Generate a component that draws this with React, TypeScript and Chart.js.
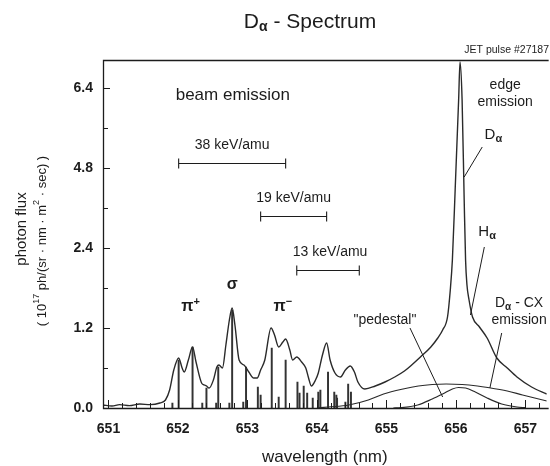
import { useEffect, useRef } from 'react';
import { Chart, LinearScale, registerables } from 'chart.js';

Chart.register(...registerables);

// ---------- data ----------
const Y_TICKS = [0, 1.2, 2.4, 4.8, 6.4];
const Y_TICK_LABELS = ['0.0', '1.2', '2.4', '4.8', '6.4'];
const X_TICKS = [651, 652, 653, 654, 655, 656, 657];

const SPECTRUM_NM = [650.92, 651.05, 651.16, 651.3, 651.45, 651.6, 651.74, 651.82, 651.88, 651.94, 652.01, 652.06, 652.09, 652.15, 652.21, 652.26, 652.34, 652.38, 652.41, 652.45, 652.51, 652.56, 652.59, 652.64, 652.69, 652.74, 652.78, 652.82, 652.88, 652.95, 653.02, 653.09, 653.14, 653.19, 653.25, 653.34, 653.39, 653.45, 653.51, 653.55, 653.61, 653.65, 653.71, 653.78, 653.84, 653.88, 653.92, 653.98, 654.02, 654.08, 654.14, 654.19, 654.26, 654.34, 654.41, 654.48, 654.54, 654.59, 654.69, 654.84, 654.98, 655.12, 655.26, 655.38, 655.49, 655.64, 655.74, 655.81, 655.88, 655.92, 655.95, 655.99, 656.04, 656.06, 656.09, 656.12, 656.14, 656.16, 656.19, 656.24, 656.34, 656.45, 656.59, 656.74, 656.88, 657.09, 657.31];
const SPECTRUM_FLUX = [0.045, 0.03, 0.05, 0.035, 0.06, 0.05, 0.075, 0.12, 0.27, 0.57, 0.75, 0.6, 0.54, 0.72, 0.915, 0.69, 0.375, 0.345, 0.33, 0.3, 0.42, 0.615, 0.645, 0.6, 0.945, 1.32, 1.5, 1.245, 0.72, 0.645, 0.54, 0.45, 0.45, 0.57, 0.72, 1.2, 1.095, 0.915, 0.99, 1.035, 0.87, 0.72, 0.765, 0.69, 0.6, 0.45, 0.33, 0.42, 0.525, 0.795, 0.975, 0.72, 0.525, 0.465, 0.57, 0.63, 0.54, 0.39, 0.285, 0.33, 0.39, 0.465, 0.555, 0.66, 0.765, 0.915, 1.05, 1.17, 1.365, 1.77, 2.22, 4.14, 6.16, 6.92, 6.16, 3.84, 2.22, 1.845, 1.62, 1.365, 1.215, 1.05, 0.75, 0.6, 0.465, 0.315, 0.21];

const STICK_NM = [651.92, 652.01, 652.21, 652.35, 652.41, 652.55, 652.58, 652.74, 652.78, 652.94, 652.98, 653.15, 653.19, 653.35, 653.45, 653.55, 653.72, 653.75, 653.81, 653.86, 653.94, 654.02, 654.05, 654.16, 654.25, 654.28, 654.29, 654.41, 654.45, 654.49];
const STICK_FLUX = [0.075, 0.72, 0.915, 0.075, 0.3, 0.075, 0.615, 0.075, 1.47, 0.09, 0.615, 0.315, 0.195, 0.9, 0.165, 0.72, 0.39, 0.225, 0.33, 0.225, 0.15, 0.24, 0.27, 0.54, 0.24, 0.195, 0.15, 0.09, 0.36, 0.24];

const PEDESTAL_NM = [654.0, 654.16, 654.46, 654.74, 654.96, 655.24, 655.46, 655.66, 655.86, 656.09, 656.31, 656.46, 656.74, 656.96, 657.31];
const PEDESTAL_FLUX = [0.0, 0.015, 0.045, 0.12, 0.21, 0.285, 0.33, 0.3525, 0.36, 0.3525, 0.33, 0.3075, 0.255, 0.195, 0.105];

const HALPHA_NM = [655.1, 655.21, 655.45, 655.66, 655.81, 655.95, 656.04, 656.14, 656.28, 656.45, 656.66, 656.88, 657.0];
const HALPHA_FLUX = [0, 0.005, 0.045, 0.135, 0.21, 0.285, 0.3075, 0.3, 0.24, 0.15, 0.06, 0.015, 0.005];

const ENERGY_LABELS = ['38 keV/amu', '19 keV/amu', '13 keV/amu'];
const ENERGY_FROM_NM = [652.01, 653.19, 653.71];
const ENERGY_TO_NM = [653.55, 654.14, 654.61];
const ENERGY_FLUX = [4.9, 3.36, 2.07];

const X_MIN = 650.921;
const X_MAX = 657.307;
const Y_MIN = 0;
const Y_MAX = 6.96;

// ---------- piecewise y scale (equal spacing between the labelled ticks) ----------
function toIdx(v: number) {
  const t = Y_TICKS;
  let i = 0;
  while (i < t.length - 2 && v > t[i + 1]) i++;
  return i + (v - t[i]) / (t[i + 1] - t[i]);
}
function fromIdx(x: number) {
  const t = Y_TICKS;
  const i = Math.min(Math.max(Math.floor(x), 0), t.length - 2);
  return t[i] + (x - i) * (t[i + 1] - t[i]);
}

class PiecewiseScale extends LinearScale {
  static id = 'piecewise';
  static defaults = LinearScale.defaults;
  getPixelForValue(value: number) {
    const lo = toIdx(this.min), hi = toIdx(this.max);
    return this.getPixelForDecimal((toIdx(value) - lo) / (hi - lo));
  }
  getValueForPixel(pixel: number) {
    const lo = toIdx(this.min), hi = toIdx(this.max);
    return fromIdx(lo + this.getDecimalForPixel(pixel) * (hi - lo));
  }
}
Chart.register(PiecewiseScale as any);

const FONT = '"Liberation Sans", Arial, Helvetica, sans-serif';
const INK = '#1c1c1c';
const LINE = '#2a2a2a';

type Part = { t: string; size: number; bold?: boolean; dy?: number };

function drawRich(ctx: CanvasRenderingContext2D, parts: Part[], x: number, y: number, align: 'center' | 'left' | 'right' = 'center') {
  const fontOf = (p: Part) => `${p.bold ? 'bold ' : ''}${p.size}px ${FONT}`;
  let total = 0;
  const widths = parts.map((p) => {
    ctx.font = fontOf(p);
    const w = ctx.measureText(p.t).width;
    total += w;
    return w;
  });
  let cx = align === 'center' ? x - total / 2 : align === 'right' ? x - total : x;
  ctx.textAlign = 'left';
  ctx.textBaseline = 'middle';
  parts.forEach((p, i) => {
    ctx.font = fontOf(p);
    ctx.fillText(p.t, cx, y + (p.dy || 0));
    cx += widths[i];
  });
}

const decorPlugin = {
  id: 'decor',
  afterDraw(chart: any) {
    const { ctx, chartArea: a, scales } = chart;
    const xs = scales.x, ys = scales.y;
    const X = (v: number) => xs.getPixelForValue(v);
    const Y = (v: number) => ys.getPixelForValue(v);
    ctx.save();
    ctx.fillStyle = INK;
    ctx.strokeStyle = INK;

    // frame: top, left, bottom
    ctx.lineWidth = 1.3;
    ctx.beginPath();
    ctx.moveTo(a.right + 2, a.top + 0.5);
    ctx.lineTo(a.left + 0.5, a.top + 0.5);
    ctx.lineTo(a.left + 0.5, a.bottom + 0.5);
    ctx.lineTo(a.right + 2, a.bottom + 0.5);
    ctx.stroke();

    // inward ticks
    ctx.lineWidth = 1;
    ctx.beginPath();
    Y_TICKS.forEach((v, i) => {
      const py = Math.round(Y(v)) + 0.5;
      ctx.moveTo(a.left, py);
      ctx.lineTo(a.left + 7, py);
      if (i < Y_TICKS.length - 1) {
        const pm = Math.round(Y((v + Y_TICKS[i + 1]) / 2)) + 0.5;
        ctx.moveTo(a.left, pm);
        ctx.lineTo(a.left + 5, pm);
      }
    });
    for (let k = 0; k <= 31; k++) {
      const nm = 651 + k * 0.2;
      if (nm > X_MAX) break;
      const px = Math.round(X(nm)) + 0.5;
      const major = k % 5 === 0;
      ctx.moveTo(px, a.bottom);
      ctx.lineTo(px, a.bottom - (major ? 8 : 5));
    }
    ctx.stroke();

    // title
    drawRich(ctx, [
      { t: 'D', size: 21 },
      { t: 'α', size: 14, bold: true, dy: 5 },
      { t: ' - Spectrum', size: 21 },
    ], 310, 22);
    drawRich(ctx, [{ t: 'JET pulse #27187', size: 10.5 }], 549, 50, 'right');

    // axis titles
    drawRich(ctx, [{ t: 'wavelength (nm)', size: 17 }], (a.left + a.right) / 2, 457);
    ctx.save();
    ctx.translate(22, 229);
    ctx.rotate(-Math.PI / 2);
    drawRich(ctx, [{ t: 'photon flux', size: 15 }], 0, 0);
    ctx.restore();
    ctx.save();
    ctx.translate(42, 241);
    ctx.rotate(-Math.PI / 2);
    drawRich(ctx, [
      { t: '( 10', size: 13 },
      { t: '17', size: 9, dy: -5 },
      { t: ' ph/(sr · nm · m', size: 13 },
      { t: '2', size: 9, dy: -5 },
      { t: ' · sec) )', size: 13 },
    ], 0, 0);
    ctx.restore();

    // region labels
    drawRich(ctx, [{ t: 'beam emission', size: 17 }], X(652.79), Y(6.26));
    drawRich(ctx, [{ t: 'edge', size: 14 }], X(656.71), Y(6.46));
    drawRich(ctx, [{ t: 'emission', size: 14 }], X(656.71), Y(6.12));

    // energy ranges
    ctx.lineWidth = 1.1;
    ENERGY_LABELS.forEach((lab, i) => {
      const x0 = X(ENERGY_FROM_NM[i]), x1 = X(ENERGY_TO_NM[i]);
      const py = Math.round(Y(ENERGY_FLUX[i])) + 0.5;
      ctx.beginPath();
      ctx.moveTo(x0, py); ctx.lineTo(x1, py);
      ctx.moveTo(x0, py - 5); ctx.lineTo(x0, py + 5);
      ctx.moveTo(x1, py - 5); ctx.lineTo(x1, py + 5);
      ctx.stroke();
      drawRich(ctx, [{ t: lab, size: 14 }], (x0 + x1) / 2 + (i === 2 ? 2 : 0), py - 18);
    });

    // peak labels
    drawRich(ctx, [{ t: 'π', size: 16, bold: true }, { t: '+', size: 11, bold: true, dy: -5 }], X(652.18), Y(1.515));
    drawRich(ctx, [{ t: 'σ', size: 16, bold: true }], X(652.78), Y(1.845));
    drawRich(ctx, [{ t: 'π', size: 16, bold: true }, { t: '−', size: 11, bold: true, dy: -5 }], X(653.51), Y(1.515));

    drawRich(ctx, [{ t: 'D', size: 15 }, { t: 'α', size: 11, bold: true, dy: 4 }], X(656.54), Y(5.46));
    drawRich(ctx, [{ t: 'H', size: 15 }, { t: 'α', size: 11, bold: true, dy: 4 }], X(656.45), Y(2.88));
    drawRich(ctx, [{ t: 'D', size: 14 }, { t: 'α', size: 10, bold: true, dy: 4 }, { t: ' - CX', size: 14 }], X(656.91), Y(1.575));
    drawRich(ctx, [{ t: 'emission', size: 14 }], X(656.91), Y(1.32));
    drawRich(ctx, [{ t: '"pedestal"', size: 14 }], X(654.98), Y(1.32));

    // leader lines
    ctx.lineWidth = 1;
    const leaders: [number, number, number, number][] = [
      [656.38, 5.22, 656.12, 4.53],
      [656.41, 2.43, 656.21, 1.395],
      [656.66, 1.125, 656.49, 0.3],
      [655.34, 1.2, 655.81, 0.165],
    ];
    ctx.beginPath();
    leaders.forEach(([ax, ay, bx, by]) => {
      ctx.moveTo(X(ax), Y(ay));
      ctx.lineTo(X(bx), Y(by));
    });
    ctx.stroke();
    ctx.restore();
  },
};

export default function App() {
  const ref = useRef<HTMLCanvasElement | null>(null);
  useEffect(() => {
    if (!ref.current) return;
    const tickFont = { family: FONT, size: 14, weight: 'bold' as const };
    const chart = new Chart(ref.current, {
      type: 'line',
      data: {
        datasets: [
          {
            type: 'line',
            data: SPECTRUM_NM.map((x, i) => ({ x, y: SPECTRUM_FLUX[i] })),
            borderColor: LINE,
            borderWidth: 1.4,
            pointRadius: 0,
            cubicInterpolationMode: 'monotone',
            fill: false,
          },
          {
            type: 'line',
            data: PEDESTAL_NM.map((x, i) => ({ x, y: PEDESTAL_FLUX[i] })),
            borderColor: LINE,
            borderWidth: 1.2,
            pointRadius: 0,
            cubicInterpolationMode: 'monotone',
            fill: false,
          },
          {
            type: 'line',
            data: HALPHA_NM.map((x, i) => ({ x, y: HALPHA_FLUX[i] })),
            borderColor: LINE,
            borderWidth: 1.2,
            pointRadius: 0,
            cubicInterpolationMode: 'monotone',
            fill: false,
          },
          {
            type: 'bar',
            data: STICK_NM.map((x, i) => ({ x, y: STICK_FLUX[i] })),
            backgroundColor: '#333333',
            borderWidth: 0,
            barThickness: 1.3,
          } as any,
        ],
      },
      options: {
        animation: false,
        responsive: false,
        maintainAspectRatio: false,
        layout: { padding: { top: 60, left: 0, right: 0, bottom: 0 } },
        plugins: {
          legend: { display: false },
          tooltip: { enabled: false },
          title: { display: false },
        },
        scales: {
          x: {
            type: 'linear',
            min: X_MIN,
            max: X_MAX,
            offset: false,
            grid: { display: false, drawTicks: false },
            border: { display: false },
            ticks: {
              font: tickFont,
              color: INK,
              padding: 13,
              maxRotation: 0,
              autoSkip: false,
              callback: (v: any) => String(v),
            },
            afterBuildTicks: (s: any) => {
              s.ticks = X_TICKS.map((v) => ({ value: v }));
            },
            afterFit: (s: any) => {
              s.height = 58;
            },
          },
          y: {
            type: 'piecewise' as any,
            min: Y_MIN,
            max: Y_MAX,
            grid: { display: false, drawTicks: false },
            border: { display: false },
            ticks: {
              font: tickFont,
              color: INK,
              padding: 10,
              callback: (_v: any, i: number) => Y_TICK_LABELS[i],
            },
            afterBuildTicks: (s: any) => {
              s.ticks = Y_TICKS.map((v) => ({ value: v }));
            },
            afterFit: (s: any) => {
              s.width = 103;
            },
          },
        },
      } as any,
      plugins: [decorPlugin],
    });
    return () => chart.destroy();
  }, []);

  return (
    <div style={{ position: 'fixed', left: 0, top: 0, width: 550, height: 466, background: '#fff' }}>
      <canvas ref={ref} width={550} height={466} style={{ display: 'block', width: 550, height: 466 }} />
    </div>
  );
}
